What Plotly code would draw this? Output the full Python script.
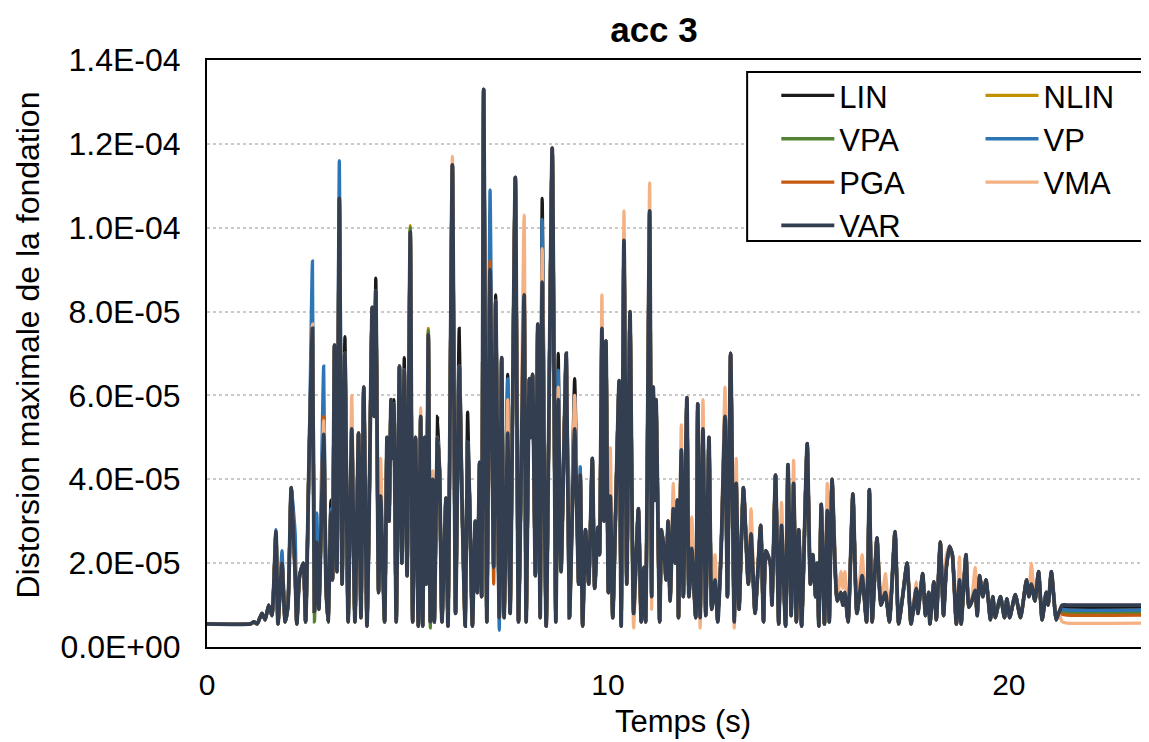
import plotly.graph_objects as go

T = [0, 1.08, 1.17, 1.25, 1.37, 1.45, 1.54, 1.62,
     1.72, 1.77, 1.87, 1.95, 2.02, 2.10, 2.2, 2.24, 2.31, 2.40, 2.46, 2.54, 2.63, 2.68, 2.74, 2.79,
     2.91, 2.97, 3.02, 3.09, 3.13, 3.18, 3.24, 3.30, 3.37, 3.44, 3.52,
     3.61, 3.69, 3.78, 3.84, 3.91, 3.99, 4.03, 4.12, 4.17, 4.21, 4.28, 4.33, 4.43, 4.49, 4.54,
     4.59, 4.62, 4.66, 4.72, 4.80, 4.86, 4.92, 4.99, 5.07, 5.13, 5.20, 5.27, 5.33, 5.38, 5.43,
     5.47, 5.52, 5.57, 5.63, 5.67, 5.75, 5.80, 5.86, 5.96, 6.01, 6.12, 6.20, 6.29, 6.36, 6.44,
     6.50, 6.55, 6.62, 6.69, 6.74, 6.80, 6.85, 6.90, 6.98,
     7.06, 7.15, 7.20, 7.29, 7.35, 7.41, 7.50, 7.56, 7.69, 7.77, 7.91, 7.96, 8.04, 8.08, 8.12,
     8.19, 8.25, 8.31, 8.36, 8.46, 8.61, 8.70, 8.76, 8.83, 8.96, 9.04, 9.17, 9.27, 9.31, 9.37,
     9.44, 9.52, 9.61, 9.67, 9.75, 9.79, 9.85, 9.90, 9.95, 10.01, 10.06, 10.12, 10.20, 10.28,
     10.33, 10.40, 10.47,
     10.55, 10.64, 10.76, 10.83, 10.90, 10.94, 11.04, 11.09, 11.13, 11.17, 11.20, 11.29, 11.34,
     11.40, 11.45, 11.50, 11.55, 11.63, 11.68, 11.73, 11.76, 11.83, 11.88, 11.97, 12.02, 12.09,
     12.19, 12.24, 12.30, 12.37, 12.44, 12.52, 12.59, 12.67, 12.74, 12.82, 12.92, 12.98, 13.06,
     13.15, 13.20, 13.27, 13.38, 13.50, 13.57, 13.67, 13.81, 13.88, 13.94,
     14.05, 14.09, 14.18, 14.26, 14.33, 14.43, 14.49, 14.57, 14.63, 14.70, 14.76, 14.83, 14.88,
     14.97, 15.05, 15.11, 15.18, 15.22, 15.26, 15.32, 15.40, 15.47, 15.52, 15.59, 15.72, 15.81,
     15.86, 15.91, 15.99, 16.11, 16.21, 16.34, 16.45, 16.52, 16.59, 16.71, 16.81, 16.92, 17.02,
     17.16, 17.25, 17.35, 17.46,
     17.56, 17.69, 17.73, 17.85, 17.92, 18.0, 18.03, 18.13, 18.19, 18.29, 18.37, 18.44, 18.52,
     18.59, 18.69, 18.77, 18.81, 18.93, 19.0, 19.06, 19.16, 19.21, 19.27, 19.35, 19.43, 19.54,
     19.60, 19.66, 19.79, 19.89, 19.95, 20.02, 20.16, 20.29, 20.44, 20.50, 20.56, 20.65, 20.74,
     20.83, 20.93, 20.98, 21.06, 21.18, 21.24, 21.33, 21.45, 23.5]

VAR = [0.55, 0.55, 0.6, 0.55, 0.8, 0.65, 1.0, 0.75,
       2.75, 0.55, 2.0, 0.6, 1.0, 3.8, 1.7, 0.55, 1.7, 2.0, 0.6, 4.2, 7.6, 0.85, 2.5, 0.9,
       5.07, 1.4, 0.6, 3.2, 1.6, 7.2, 1.8, 10.7, 1.5, 7.0, 0.6,
       5.2, 0.6, 5.1, 0.7, 6.2, 0.5, 2.3, 8.1, 5.5, 8.5, 1.3, 3.6, 0.6, 5.0, 3.0,
       5.9, 4.5, 5.8, 0.6, 6.7, 2.0, 6.6, 1.7, 9.9, 0.6, 5.0, 0.5, 5.5, 0.5, 5.0,
       1.5, 7.45, 0.6, 4.0, 0.6, 5.0, 4.2, 0.6, 3.55, 0.5, 11.5, 0.8, 6.7, 3.5, 0.5,
       4.9, 3.5, 0.5, 3.0, 1.3, 4.4, 1.2, 13.3, 0.6,
       9.0, 1.9, 8.25, 0.7, 6.9, 0.7, 5.1, 0.8, 11.2, 0.6, 8.4, 0.6, 6.4, 5.0, 6.5,
       1.7, 7.7, 0.7, 8.7, 0.5, 11.9, 0.6, 5.9, 1.8, 7.0, 0.7, 5.2, 1.5, 4.1, 0.5,
       2.8, 1.5, 4.5, 1.4, 2.85, 2.2, 7.6, 3.0, 7.3, 1.3, 3.6, 0.7, 3.55, 6.35,
       0.5, 9.7, 1.5,
       8.0, 0.8, 3.3, 0.6, 1.9, 0.6, 10.4, 1.2, 6.2, 3.5, 5.9, 0.6, 2.8,
       2.3, 1.6, 3.0, 1.1, 3.3, 2.0, 3.5, 0.7, 4.7, 1.2, 5.95, 1.2, 2.35,
       0.7, 5.8, 0.7, 5.2, 0.75, 5.0, 0.9, 1.6, 0.6, 2.2, 5.5, 1.2, 7.0,
       0.6, 3.9, 0.9, 3.8, 1.5, 2.7, 0.8, 2.9, 0.6, 2.3,
       2.0, 1.0, 4.1, 0.55, 2.9, 0.5, 4.35, 0.75, 3.9, 0.6, 2.8, 0.5, 1.9,
       4.85, 1.5, 2.2, 1.2, 2.0, 0.5, 3.4, 0.55, 3.25, 0.6, 4.0, 1.1, 1.3,
       1.0, 1.3, 0.6, 3.65, 0.8, 1.7, 0.6, 3.75, 0.6, 2.6, 1.0, 1.3, 0.6,
       2.75, 0.55, 1.2, 2.0,
       0.55, 1.4, 0.8, 1.75, 0.75, 1.3, 0.55, 1.55, 0.65, 2.5, 0.75, 1.9, 2.4,
       2.2, 0.55, 1.6, 0.55, 2.2, 0.95, 1.05, 1.35, 0.75, 1.7, 1.2, 1.6, 0.65,
       1.2, 0.7, 1.2, 0.7, 1.15, 0.7, 1.25, 0.7, 1.6, 1.2, 1.5, 1.1, 1.8,
       0.65, 1.3, 1.0, 1.8, 0.65, 0.8, 1.0, 1.0, 1.0]

# where the other curves leave VAR (time: value x 1e-5)
LIN = {3.09: 3.5, 3.18: 7.2, 3.44: 7.4, 4.21: 8.8, 4.66: 5.9, 4.92: 6.9, 5.75: 5.5,
       6.29: 7.6, 6.50: 5.6, 7.20: 8.4, 7.50: 6.5, 8.36: 10.7, 8.76: 7.0, 9.17: 6.4,
       21.33: 0.96, 21.45: 0.95, 23.5: 0.95}
NLIN = {5.07: 10.05, 5.52: 7.6, 21.33: 0.85, 21.45: 0.83, 23.5: 0.83}
VPA = {5.07: 10.0, 5.52: 7.55, 2.68: 0.6, 5.57: 0.45, 21.33: 0.84, 21.45: 0.82, 23.5: 0.82}
VP = {1.72: 2.8, 1.87: 2.3, 2.2: 2.7, 2.63: 9.2, 2.74: 3.2, 2.91: 6.7, 3.09: 3.3,
      3.30: 11.6, 4.59: 5.9, 6.29: 6.7, 7.06: 10.9, 7.29: 0.4, 7.50: 6.4, 8.36: 10.2,
      8.76: 6.6, 9.17: 6.0, 9.31: 4.3, 21.33: 0.9, 21.45: 0.88, 23.5: 0.88}
PGA = {2.91: 5.5, 7.06: 9.2, 8.36: 8.9, 7.15: 1.5, 21.33: 0.78, 21.45: 0.76, 23.5: 0.76}
VMA = {2.63: 7.7, 2.91: 5.4, 3.61: 6.0, 4.21: 7.5, 4.33: 4.5, 5.33: 5.7, 5.63: 4.2,
       6.12: 11.7, 7.50: 5.9, 7.91: 10.3, 8.36: 9.5, 8.76: 6.2, 9.17: 6.0, 9.85: 8.4,
       10.06: 4.75, 10.40: 10.4, 11.04: 11.07, 11.63: 3.9, 11.83: 5.3, 12.09: 3.1,
       12.37: 5.9, 12.67: 2.2, 12.92: 6.2, 13.20: 4.5, 13.57: 3.3, 14.33: 3.45,
       14.63: 4.45, 15.47: 3.9, 15.81: 1.8, 15.86: 1.4, 15.91: 1.8, 16.34: 2.2,
       16.92: 1.75, 17.69: 1.55, 18.44: 2.2, 18.77: 2.15, 19.16: 1.9, 20.56: 2.0,
       10.64: 0.45, 11.09: 0.9, 12.30: 0.45, 13.15: 0.45, 21.33: 0.6, 21.45: 0.57, 23.5: 0.57}

# name, deviations, colour, legend column
SERIES = [("LIN", LIN, "#1a1a1a", "legend"), ("NLIN", NLIN, "#bf9000", "legend2"),
          ("VPA", VPA, "#548235", "legend"), ("VP", VP, "#2e75b6", "legend2"),
          ("PGA", PGA, "#c55a11", "legend"), ("VMA", VMA, "#f4b183", "legend2"),
          ("VAR", {}, "#333f50", "legend")]

Y_TICKS = [0, 2e-5, 4e-5, 6e-5, 8e-5, 1e-4, 1.2e-4, 1.4e-4]
Y_LABELS = ["0.0E+00", "2.0E-05", "4.0E-05", "6.0E-05", "8.0E-05", "1.0E-04", "1.2E-04", "1.4E-04"]

FONT = "Liberation Sans, Arial, sans-serif"

fig = go.Figure()
for name, diff, color, leg in SERIES:
    y = [diff.get(t, v) * 1e-5 for t, v in zip(T, VAR)]
    fig.add_trace(go.Scatter(x=T, y=y, name=name, mode="lines", legend=leg,
                             line=dict(color=color, width=3.8 if name == "VAR" else 3.3,
                                       shape="spline", smoothing=0.5)))

legend_style = dict(orientation="v", yanchor="top", xanchor="left", y=0.985,
                    bgcolor="rgba(0,0,0,0)", borderwidth=0,
                    font=dict(size=31, color="black"), itemwidth=53, tracegroupgap=0)

# the page body adds an 8 px offset, so the figure is 8 px smaller than the window
fig.update_layout(
    width=1141, height=734,
    margin=dict(l=199, r=1, t=52, b=95),
    paper_bgcolor="white", plot_bgcolor="white",
    font=dict(family=FONT, size=32, color="black"),
    title=dict(text="<b>acc 3</b>", x=0.475, xref="paper", xanchor="center",
               y=0.97, yanchor="middle", font=dict(size=35)),
    showlegend=True,
    legend=dict(x=0.605, **legend_style),
    legend2=dict(x=0.822, **legend_style),
    shapes=[dict(type="rect", xref="paper", yref="paper", x0=0.574, x1=1.0,
                 y0=0.6917, y1=0.9796, line=dict(color="black", width=2),
                 fillcolor="white", layer="above")],
    annotations=[
        dict(text="Distorsion maximale de la fondation", xref="paper", yref="paper",
             x=-0.19, y=0.514, textangle=-90, showarrow=False, font=dict(size=32),
             xanchor="center", yanchor="middle"),
        dict(text="Temps (s)", xref="paper", yref="paper", x=0.506, y=-0.127,
             showarrow=False, font=dict(size=31), xanchor="center", yanchor="middle"),
    ],
)
fig.update_xaxes(range=[0, 23.47], tickvals=[0, 10, 20], showgrid=False, zeroline=False,
                 showline=True, linecolor="black", linewidth=2, mirror=True,
                 ticks="", ticklabelstandoff=10, tickfont=dict(size=30), automargin=False)
fig.update_yaxes(range=[0, 1.4e-4], tickvals=Y_TICKS, ticktext=Y_LABELS,
                 showgrid=True, gridcolor="#c9c9c9", griddash="dot", gridwidth=1.5,
                 zeroline=False, showline=True, linecolor="black", linewidth=2, mirror=True,
                 ticks="outside", ticklen=18, tickcolor="rgba(0,0,0,0)", automargin=False)

fig.write_html("out.html")
